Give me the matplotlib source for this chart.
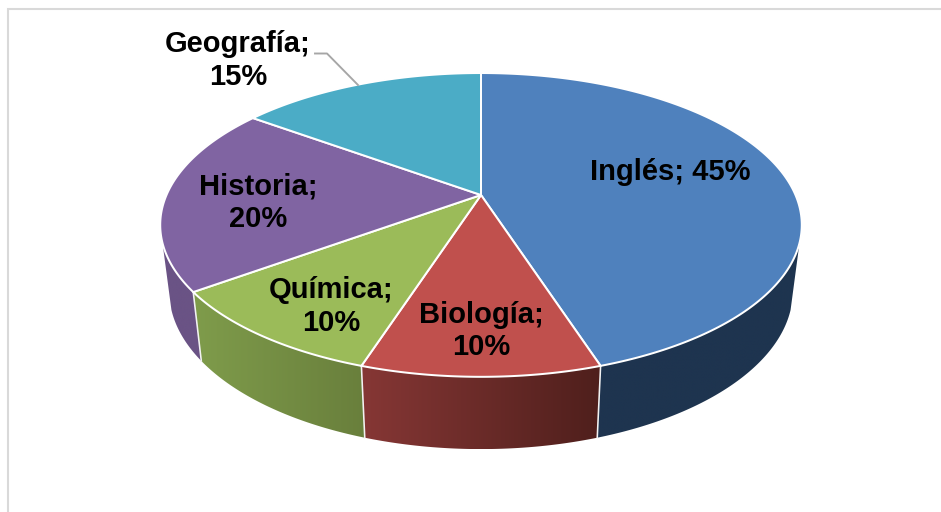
import numpy as np
import matplotlib
matplotlib.use("Agg")
import matplotlib.pyplot as plt
from matplotlib.patches import Polygon

# --- data ---
categories = ["Inglés", "Biología", "Química", "Historia", "Geografía"]
values = [45, 10, 10, 20, 15]
top_colors = ["#4F81BD", "#C0504D", "#9BBB59", "#8064A2", "#4BACC6"]
wall_left = ["#1E344F", "#863735", "#7F9C4B", "#6A5385", "#3A8195"]
wall_right = ["#1E344F", "#4F1F1C", "#697F3C", "#6A5385", "#3A8195"]
label_breaks = [False, True, True, True, True]
label_xy = [(670, 172), (481, 331), (331, 306.5), (258, 203), (238, 60.5)]

# --- perspective geometry of the pie (pixel space) ---
W, H = 941, 512
CX, CY = 481.0, 195.0
A, B, K = 314.5, 146.0, 0.197
SX, SY, BASE_Y = 0.972, 1.04, 260.0
VIS0, VIS1 = 108.0, 252.0


def project(theta):
    t = np.radians(theta)
    u, v = np.sin(t), -np.cos(t)
    d = 1 - K * v
    return A * u / d, B * v / d


def top_rim(theta):
    x, y = project(theta)
    return CX + x, CY + y


def base_rim(theta):
    x, y = project(theta)
    return CX + SX * x, BASE_Y + SY * y


fig = plt.figure(figsize=(W / 100, H / 100), dpi=100, facecolor="white")
ax = fig.add_axes([0, 0, 1, 1])
ax.axis("off")

# outer frame
ax.plot([8, 8, 940], [512, 8.5, 8.5], color="#D9D9D9", lw=1.5, solid_joinstyle="miter", zorder=1)

edges = np.concatenate([[0], np.cumsum(values)]) / sum(values) * 360.0
px = 1 / 1.389  # one pixel in points

# side walls: a horizontal gradient clipped to each wall outline
for i, c in enumerate(categories):
    a0, a1 = max(edges[i], VIS0), min(edges[i + 1], VIS1)
    if a0 >= a1:
        continue
    th = np.linspace(a0, a1, 120)
    tx, ty = top_rim(th)
    bx, by = base_rim(th)
    c0 = np.array(matplotlib.colors.to_rgb(wall_left[i]))
    c1 = np.array(matplotlib.colors.to_rgb(wall_right[i]))
    xs = np.r_[tx, bx[::-1]]
    ys = np.r_[ty, by[::-1]]
    grad = np.linspace(0, 1, 256)[None, :, None] * (c1 - c0)[None, None, :] + c0[None, None, :]
    im = ax.imshow(grad, extent=[xs.min(), xs.max(), ys.max(), ys.min()], aspect="auto",
                   interpolation="bilinear", zorder=2)
    clip = Polygon(np.column_stack([xs, ys]), closed=True, transform=ax.transData,
                   fc="none", ec="none")
    ax.add_patch(clip)
    im.set_clip_path(clip)

ax.set_xlim(0, W)
ax.set_ylim(H, 0)

# seams between walls
for e in edges:
    if VIS0 < e < VIS1:
        tx, ty = top_rim(e)
        bx, by = base_rim(e)
        ax.plot([tx, bx], [ty, by], color="#F2F2F2", lw=1.6 * px, zorder=3)

# top faces
for i, c in enumerate(categories):
    th = np.linspace(edges[i], edges[i + 1], 200)
    x, y = top_rim(th)
    pts = np.column_stack([np.r_[CX, x], np.r_[CY, y]])
    ax.add_patch(Polygon(pts, closed=True, fc=top_colors[i], ec="white", lw=2.0 * px,
                         joinstyle="round", zorder=4))

# leader line for Geografía
ax.plot([315, 327, 358], [53.5, 53.5, 85], color="#A6A6A6", lw=1.9 * px, zorder=5)

# labels
for c, v, brk, (lx, ly) in zip(categories, values, label_breaks, label_xy):
    sep = ";\n" if brk else "; "
    ax.text(lx, ly, f"{c}{sep}{v}%", ha="center", va="center", family="Liberation Sans",
            fontweight="bold", fontsize=21, color="black", linespacing=1.2, zorder=6)

fig.savefig("out.png", dpi=100, facecolor="white")
